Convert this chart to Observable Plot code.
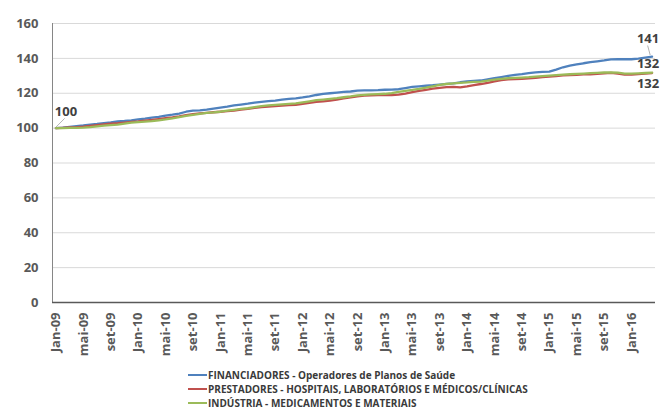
<!DOCTYPE html>
<html><head><meta charset="utf-8">
<script src="https://cdn.jsdelivr.net/npm/d3@7"></script>
<script src="https://cdn.jsdelivr.net/npm/@observablehq/plot@0.6"></script>
<style>
body{margin:0;background:#fff;font-family:"Open Sans",sans-serif;}
#chart{position:absolute;left:0;top:0}
#legend{position:absolute;left:188px;top:368px;font-size:10px;font-weight:700;color:#3a3a3a;line-height:14px}
.row{height:14px;display:flex;align-items:center;white-space:nowrap}
.sw{width:19px;height:2px;margin-right:1px}
</style></head><body><div id="chart"></div><div id="legend"></div>
<script>
const monthAbbr = ["Jan","fev","mar","abr","mai","jun","jul","ago","set","out","nov","dez"];
const years = ["09","10","11","12","13","14","15","16"];
const months = [];
years.forEach((yy, yi) => monthAbbr.forEach((m, mi) => { if (yi < 7 || mi < 4) months.push(m + "-" + yy); }));

const seriesNames = [
  "FINANCIADORES - Operadores de Planos de Saúde",
  "PRESTADORES - HOSPITAIS, LABORATÓRIOS E MÉDICOS/CLÍNICAS",
  "INDÚSTRIA - MEDICAMENTOS E MATERIAIS"
];
const seriesColors = ["#4f81bd", "#c0504d", "#9bbb59"];

const financiadores = [
  100.0,100.3,100.7,101.1,101.5,102.0,102.4,102.9,103.3,103.8,104.1,104.5,
  105.0,105.4,106.0,106.5,107.2,107.7,108.3,109.4,110.0,110.2,110.6,111.2,
  111.8,112.3,113.0,113.5,114.0,114.6,115.1,115.5,115.8,116.3,116.8,117.1,
  117.6,118.2,119.0,119.6,120.0,120.4,120.8,121.0,121.5,121.6,121.7,121.8,
  122.0,122.1,122.3,123.0,123.6,124.0,124.3,124.6,125.0,125.4,125.7,126.3,
  126.8,127.1,127.3,128.0,128.7,129.3,129.9,130.5,131.0,131.6,132.0,132.2,
  132.4,133.6,134.9,135.8,136.5,137.2,137.8,138.3,138.8,139.4,139.6,139.5,
  139.5,139.8,140.4,141.0
];
const prestadores = [
  100.0,100.2,100.4,100.6,100.9,101.3,101.7,102.1,102.5,102.8,103.2,103.6,
  103.9,104.3,104.7,105.2,105.7,106.2,106.8,107.5,108.0,108.4,108.8,109.1,
  109.4,109.7,110.1,110.6,111.1,111.6,112.1,112.4,112.7,112.9,113.2,113.4,
  113.9,114.5,115.0,115.4,115.8,116.4,117.0,117.6,118.2,118.6,118.8,119.0,
  119.1,119.0,119.2,119.8,120.6,121.3,122.0,122.6,123.1,123.5,123.7,123.4,
  124.0,124.7,125.3,126.0,126.8,127.5,127.9,128.1,128.3,128.5,128.8,129.2,
  129.6,129.9,130.2,130.4,130.6,130.8,130.9,131.1,131.4,131.7,131.2,130.7,
  130.7,131.0,131.3,131.6
];
const industria = [
  100.0,100.0,100.1,100.1,100.3,100.6,101.0,101.4,101.7,102.0,102.6,103.1,
  103.4,103.7,104.0,104.5,105.0,105.6,106.3,107.0,107.6,108.2,108.7,109.0,
  109.4,110.0,110.5,111.0,111.4,112.0,112.6,113.0,113.3,113.6,113.9,114.2,
  114.8,115.4,116.0,116.4,116.8,117.2,117.7,118.2,118.8,119.1,119.3,119.5,
  119.7,120.1,120.8,121.4,121.9,122.5,123.2,124.0,124.8,125.3,125.7,126.0,
  126.2,126.5,126.7,127.2,127.8,128.3,128.6,128.8,129.0,129.2,129.5,129.8,
  130.1,130.4,130.7,130.9,131.1,131.3,131.5,131.7,131.9,132.0,131.8,131.2,
  131.2,131.4,131.6,131.8
];
const yTicks = [0,20,40,60,80,100,120,140,160];
const xTickLabels = months.filter((d, i) => i % 4 === 0);

const allSeries = [financiadores, prestadores, industria];
const rows = [];
allSeries.forEach((vals, s) => vals.forEach((v, i) => rows.push({month: months[i], value: v, series: seriesNames[s]})));

const last = months.length - 1;
const pt = (arr, i) => [{month: months[i], value: arr[i]}];
const fmt = d => String(Math.round(d.value));
const labelStyle = {x: "month", y: "value", text: fmt, fill: "#404040", fontSize: 13, fontWeight: 700};
const leaderShape = {draw(ctx, l) { ctx.moveTo(0, 0); ctx.lineTo(0, -l); }};
const leaderStyle = {x: "month", y: "value", anchor: "start", shape: leaderShape, stroke: "#a6a6a6", strokeWidth: 0.8};

const chart = Plot.plot({
  width: 671, height: 360,
  marginTop: 23, marginBottom: 58, marginLeft: 52, marginRight: 16,
  style: {fontFamily: "Open Sans, sans-serif", fontWeight: 700, fontSize: "13px", color: "#595959", background: "white"},
  x: {type: "point", domain: months, padding: 0.5, label: null},
  y: {domain: [0, 160], label: null},
  color: {domain: seriesNames, range: seriesColors},
  marks: [
    Plot.gridY(yTicks.filter(d => d > 0), {stroke: "#d9d9d9", strokeOpacity: 1, strokeWidth: 1}),
    Plot.frame({anchor: "left", stroke: "#868686"}),
    Plot.ruleY([0], {stroke: "#595959", strokeWidth: 1.3}),
    Plot.axisY({ticks: yTicks, tickSize: 0, tickPadding: 14, label: null}),
    Plot.axisX({ticks: xTickLabels, tickSize: 0, tickRotate: -90, tickPadding: 10, label: null}),
    Plot.lineY(rows, {x: "month", y: "value", z: "series", stroke: "series", strokeWidth: 2.3}),
    Plot.vector(pt(industria, 0), {...leaderStyle, length: 12, rotate: 45, dy: -1}),
    Plot.vector(pt(financiadores, last), {...leaderStyle, length: 9, rotate: -15, dx: -2, dy: -2}),
    Plot.text(pt(industria, 0), {...labelStyle, dx: 10, dy: -16}),
    Plot.text(pt(financiadores, last), {...labelStyle, dx: -4, dy: -18}),
    Plot.text(pt(industria, last), {...labelStyle, dx: -4, dy: -9}),
    Plot.text(pt(prestadores, last), {...labelStyle, dx: -4, dy: 11})
  ]
});
document.getElementById("chart").appendChild(chart);

const legend = document.getElementById("legend");
seriesNames.forEach((n, i) => {
  const r = document.createElement("div"); r.className = "row";
  const sw = document.createElement("span"); sw.className = "sw"; sw.style.background = seriesColors[i];
  const t = document.createElement("span"); t.textContent = n;
  r.appendChild(sw); r.appendChild(t); legend.appendChild(r);
});
</script></body></html>
